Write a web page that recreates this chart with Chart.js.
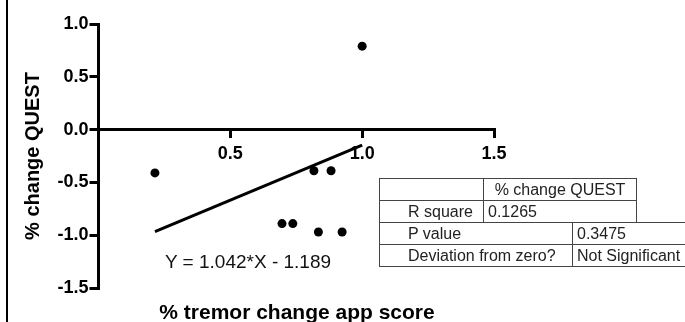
<!DOCTYPE html>
<html><head><meta charset="utf-8">
<script src="https://cdn.jsdelivr.net/npm/chart.js@4"></script>
<style>
body{margin:0;background:#fff;}
#wrap{position:relative;width:685px;height:322px;overflow:hidden;font-family:"Liberation Sans",Arial,sans-serif;background:#fff;}
canvas{position:absolute;left:0;top:0;}
.frame{position:absolute;left:6px;top:0;width:2px;height:322px;background:#000;}
.eq{position:absolute;left:165px;top:252px;font-size:19px;line-height:19px;color:#111;white-space:nowrap;}
.xt{position:absolute;left:0;width:594px;text-align:center;top:301px;font-size:21px;line-height:21px;font-weight:bold;color:#000;white-space:nowrap;}
table{position:absolute;border-collapse:collapse;table-layout:fixed;font-size:16px;color:#222;}
td{border:1px solid #444;height:21px;padding:0 4px;white-space:nowrap;line-height:16px;overflow:hidden;}
td.lab{padding-left:28px;}
td.hd{text-align:center;}
</style>
</head><body>
<div id="wrap">
<canvas id="c" width="685" height="322"></canvas>
<div class="frame"></div>
<div class="eq" id="eq"></div>
<div class="xt" id="xt"></div>
<table id="t1" style="left:379px;top:178px;width:257px;"><colgroup><col style="width:104px"><col style="width:153px"></colgroup><tbody></tbody></table>
<table id="t2" style="left:379px;top:222px;width:340px;"><colgroup><col style="width:193px"><col style="width:147px"></colgroup><tbody></tbody></table>
</div>
<script>
// data
const xValues = [0.214, 0.696, 0.737, 0.817, 0.834, 0.882, 0.924, 1.0];
const yValues = [-0.41, -0.89, -0.89, -0.39, -0.97, -0.39, -0.97, 0.79];
const fitX = [0.214, 1.0];
const fitY = [-0.966, -0.147];
const xTicks = [0.5, 1.0, 1.5];
const yTicks = [-1.5, -1.0, -0.5, 0.0, 0.5, 1.0];
const xTitle = "% tremor change app score";
const yTitle = "% change QUEST";
const equation = "Y = 1.042*X - 1.189";
const table1 = [["", "% change QUEST"], ["R square", "0.1265"]];
const table2 = [["P value", "0.3475"], ["Deviation from zero?", "Not Significant"]];

document.getElementById('eq').textContent = equation;
document.getElementById('xt').textContent = xTitle;
function fill(id, rows, header) {
  const tb = document.querySelector('#' + id + ' tbody');
  rows.forEach((r, i) => {
    const tr = document.createElement('tr');
    r.forEach((c, j) => {
      const td = document.createElement('td');
      td.textContent = c;
      if (j === 0) td.className = 'lab';
      if (header && i === 0 && j === 1) td.className = 'hd';
      tr.appendChild(td);
    });
    tb.appendChild(tr);
  });
}
fill('t1', table1, true);
fill('t2', table2, false);

const FONT = "'Liberation Sans', Arial, sans-serif";
new Chart(document.getElementById('c'), {
  type: 'scatter',
  data: {
    datasets: [
      {
        data: xValues.map((x, i) => ({x: x, y: yValues[i]})),
        pointRadius: 4.5, pointHoverRadius: 4.5,
        backgroundColor: '#000', borderColor: '#000', borderWidth: 0
      },
      {
        type: 'line',
        data: fitX.map((x, i) => ({x: x, y: fitY[i]})),
        borderColor: '#000', borderWidth: 3, pointRadius: 0, fill: false, tension: 0
      }
    ]
  },
  options: {
    responsive: false, animation: false, devicePixelRatio: 1,
    layout: {padding: {left: 0, top: 24, right: 191, bottom: 34}},
    plugins: {legend: {display: false}, tooltip: {enabled: false}},
    scales: {
      x: {
        type: 'linear', position: {y: 0}, min: 0, max: 1.5,
        afterBuildTicks: s => { s.ticks = xTicks.map(v => ({value: v})); },
        ticks: {color: '#000', font: {family: FONT, size: 18, weight: 'bold'}, padding: 7,
          callback: v => Number(v).toFixed(1)},
        grid: {drawOnChartArea: false, drawTicks: true, tickLength: 7, color: '#000', lineWidth: 3},
        border: {display: true, color: '#000', width: 3}
      },
      y: {
        type: 'linear', position: 'left', min: -1.5, max: 1.0,
        afterBuildTicks: s => { s.ticks = yTicks.map(v => ({value: v})); },
        afterFit: s => { s.width = 98.5; },
        ticks: {color: '#000', font: {family: FONT, size: 18, weight: 'bold'}, padding: 1,
          callback: v => Number(v).toFixed(1)},
        grid: {drawOnChartArea: false, drawTicks: true, tickLength: 9, color: '#000', lineWidth: 3},
        border: {display: true, color: '#000', width: 3},
        title: {display: true, text: yTitle, color: '#000', font: {family: FONT, size: 20, weight: 'bold'}, padding: {top: 21, bottom: 0}}
      }
    }
  }
});
</script>
</body></html>
